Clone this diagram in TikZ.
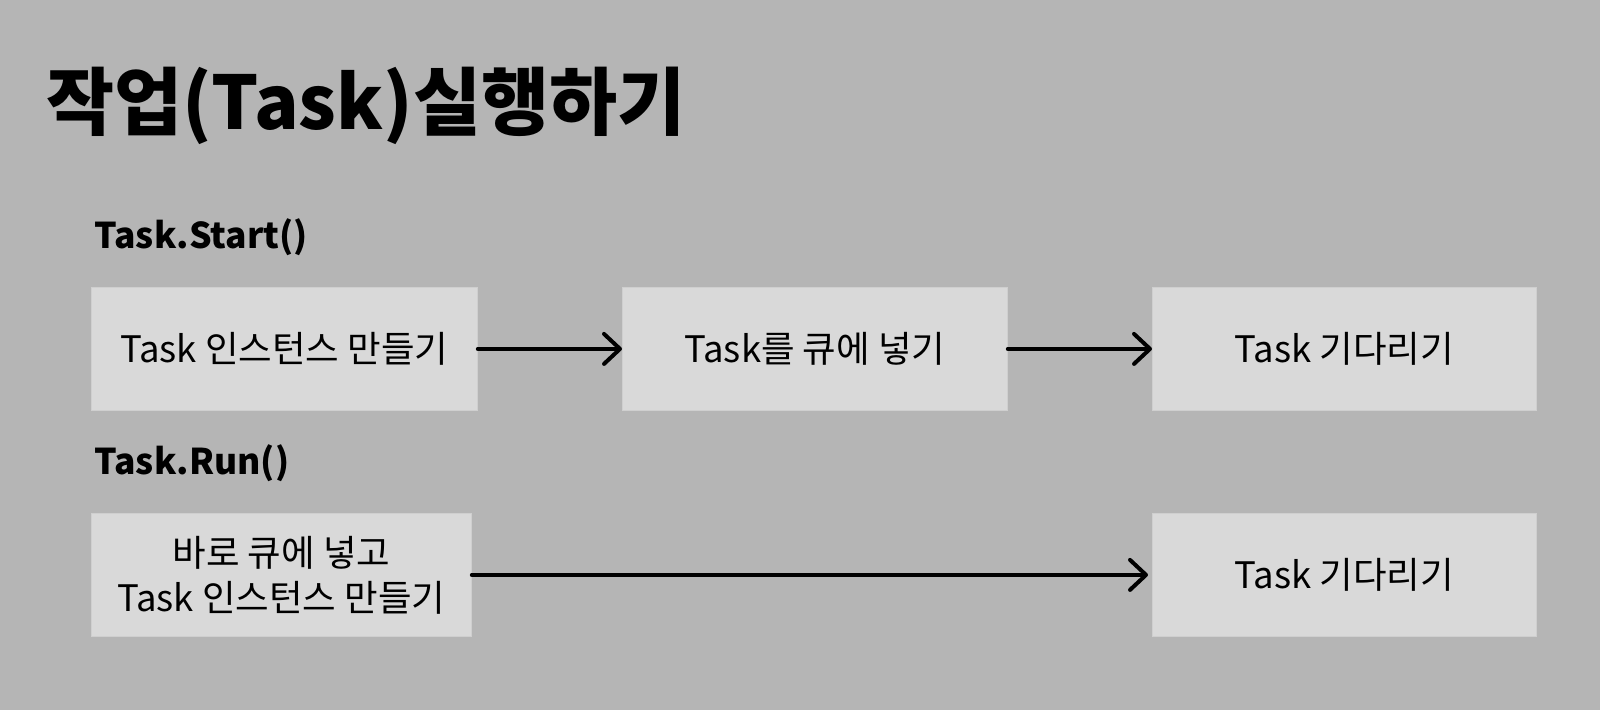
\documentclass[tikz,border=0pt]{standalone}
\usepackage{fontspec}
\setmainfont{Noto Sans CJK KR}
\usetikzlibrary{arrows.meta}
\begin{document}
\begin{tikzpicture}[x=1pt,y=-1pt,
  box/.style={fill=boxgray, draw=boxedge, line width=0.8pt, inner sep=0pt, anchor=north west,
    font=\fontsize{36.5}{45}\selectfont, align=center},
  head/.style={anchor=base west, inner sep=0pt, font=\fontsize{35.5}{40}\selectfont\bfseries},
  conn/.style={line width=4pt, line cap=round, -{Straight Barb[length=16pt,width=30pt,line width=4pt, round]}}
]
\definecolor{bg}{HTML}{B5B5B5}
\definecolor{boxgray}{HTML}{D9D9D9}
\definecolor{boxedge}{HTML}{CFCFCF}
\fill[bg] (0,0) rectangle (1600,710);
\useasboundingbox (0,0) rectangle (1600,710);
\node[anchor=base west, inner sep=0pt, font=\fontsize{74}{80}\selectfont\bfseries] (title) at (46,129) {작업(Task)실행하기};
\node[head] (hstart) at (94,248) {Task.Start()};
\node[head] (hrun) at (94,474) {Task.Run()};
\node[box, minimum width=386pt, minimum height=123pt] (a) at (91,287) {Task 인스턴스 만들기};
\node[box, minimum width=385pt, minimum height=123pt] (b) at (622,287) {Task를 큐에 넣기};
\node[box, minimum width=384pt, minimum height=123pt] (c) at (1152,287) {Task 기다리기};
\node[box, minimum width=380pt, minimum height=123pt] (d) at (91,513) {바로 큐에 넣고\\Task 인스턴스 만들기};
\node[box, minimum width=384pt, minimum height=123pt] (e) at (1152,513) {Task 기다리기};
\draw[conn] (a.east) -- (b.west);
\draw[conn] (b.east) -- (c.west);
\draw[conn] (d.east) -- ([xshift=-4pt]e.west);
\end{tikzpicture}
\end{document}
